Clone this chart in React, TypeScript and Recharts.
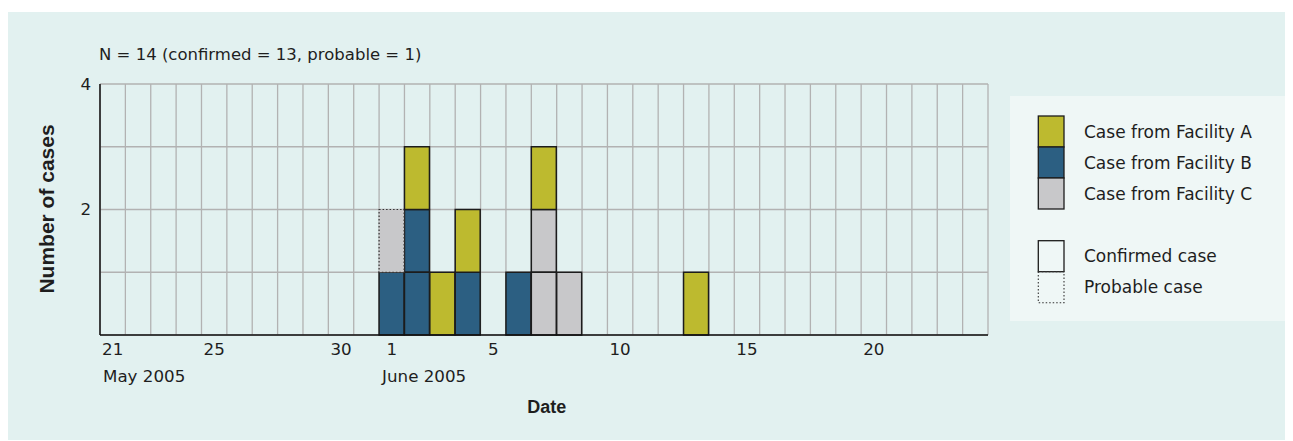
import React from 'react';
import { BarChart, Bar, XAxis, YAxis, CartesianGrid } from 'recharts';

// Days shown on the time axis
const mayDays = [21, 22, 23, 24, 25, 26, 27, 28, 29, 30, 31];
const juneDays = [1, 2, 3, 4, 5, 6, 7, 8, 9, 10, 11, 12, 13, 14, 15, 16, 17, 18, 19, 20, 21, 22, 23, 24];
const categories = [...mayDays.map((d) => `May ${d}`), ...juneDays.map((d) => `Jun ${d}`)];

// Cases per day (May 21 .. Jun 24)
const facilityB = [0, 0, 0, 0, 0, 0, 0, 0, 0, 0, 0, 1, 2, 0, 1, 0, 1, 0, 0, 0, 0, 0, 0, 0, 0, 0, 0, 0, 0, 0, 0, 0, 0, 0, 0];
const facilityCConfirmed = [0, 0, 0, 0, 0, 0, 0, 0, 0, 0, 0, 0, 0, 0, 0, 0, 0, 2, 1, 0, 0, 0, 0, 0, 0, 0, 0, 0, 0, 0, 0, 0, 0, 0, 0];
const facilityCProbable = [0, 0, 0, 0, 0, 0, 0, 0, 0, 0, 0, 1, 0, 0, 0, 0, 0, 0, 0, 0, 0, 0, 0, 0, 0, 0, 0, 0, 0, 0, 0, 0, 0, 0, 0];
const facilityA = [0, 0, 0, 0, 0, 0, 0, 0, 0, 0, 0, 0, 1, 1, 1, 0, 0, 1, 0, 0, 0, 0, 0, 1, 0, 0, 0, 0, 0, 0, 0, 0, 0, 0, 0];

// Tick labels
const tickDates = ['May 21', 'May 25', 'May 30', 'Jun 1', 'Jun 5', 'Jun 10', 'Jun 15', 'Jun 20'];
const monthStarts = ['May 21', 'Jun 1'];
const monthLabels = ['May 2005', 'June 2005'];
const yTicks = [0, 1, 2, 3, 4];
const yLabelled = [2, 4];

const titleText = 'N = 14 (confirmed = 13, probable = 1)';
const yTitle = 'Number of cases';
const xTitle = 'Date';

const COLOR_A = '#bdba2f';
const COLOR_B = '#2c5f82';
const COLOR_C = '#c8c8ca';
const EDGE = '#1c1c1c';
const FONT = "'DejaVu Sans', sans-serif";
const BOLD_FONT = "'Liberation Sans', Arial, sans-serif";
const TEXT = '#1e1e1e';

const facilityLegend = [
  { label: 'Case from Facility A', color: COLOR_A },
  { label: 'Case from Facility B', color: COLOR_B },
  { label: 'Case from Facility C', color: COLOR_C },
];
const statusLegend = [
  { label: 'Confirmed case', dashed: false },
  { label: 'Probable case', dashed: true },
];

const data = categories.map((c, i) => ({
  date: c,
  b: facilityB[i],
  cConf: facilityCConfirmed[i],
  cProb: facilityCProbable[i],
  a: facilityA[i],
}));

const unitShape = (key: string, probable: boolean) => (props: any) => {
  const { x, y, width, height, payload, fill } = props;
  const n = payload ? payload[key] : 0;
  if (!n || !height || height <= 0) return <g />;
  const h = height / n;
  return (
    <g>
      {Array.from({ length: n }, (_, k) => (
        <rect
          key={k}
          x={x}
          y={y + k * h}
          width={width}
          height={h}
          fill={fill}
          stroke={probable ? '#333' : EDGE}
          strokeWidth={probable ? 1.2 : 1.5}
          strokeDasharray={probable ? '1.5 2' : undefined}
        />
      ))}
    </g>
  );
};

const DateTick = (props: any) => {
  const { x, y, payload, width } = props;
  const value: string = payload.value;
  const day = value.split(' ')[1];
  const half = payload.offset ?? width / categories.length / 2;
  const mi = monthStarts.indexOf(value);
  return (
    <g>
      <text x={x} y={y} dy="0.71em" textAnchor="middle" fontFamily={FONT} fontSize={16.7} fill={TEXT}>
        {day}
      </text>
      {mi >= 0 && (
        <text x={x - half + 3} y={y} dy={38.5} textAnchor="start" fontFamily={FONT} fontSize={16.7} fill={TEXT}>
          {monthLabels[mi]}
        </text>
      )}
    </g>
  );
};

const gridVerticals = ({ offset }: any) =>
  Array.from({ length: categories.length + 1 }, (_, i) => offset.left + (i * offset.width) / categories.length);

const LegendBlock = () => {
  const bx = 1002;
  const by = 84;
  const sx = 1030.3;
  const sw = 25.7;
  const rh = 31;
  const top1 = 104;
  const top2 = 228.7;
  const tx = 1076;
  return (
    <g>
      <rect x={bx} y={by} width={283} height={225} fill="#eff7f6" />
      {facilityLegend.map((it, i) => (
        <g key={it.label}>
          <rect x={sx} y={top1 + i * rh} width={sw} height={rh} fill={it.color} stroke={EDGE} strokeWidth={1.3} />
          <text x={tx} y={top1 + i * rh + rh / 2 + 6.2} fontFamily={FONT} fontSize={17} fill={TEXT}>
            {it.label}
          </text>
        </g>
      ))}
      {statusLegend.map((it, i) => (
        <g key={it.label}>
          <rect
            x={sx}
            y={top2 + i * rh}
            width={sw}
            height={rh}
            fill="none"
            stroke={it.dashed ? '#333' : EDGE}
            strokeWidth={it.dashed ? 1.1 : 1.3}
            strokeDasharray={it.dashed ? '1.5 2' : undefined}
          />
          <text x={tx} y={top2 + i * rh + rh / 2 + 6.2} fontFamily={FONT} fontSize={17} fill={TEXT}>
            {it.label}
          </text>
        </g>
      ))}
    </g>
  );
};

export default function App() {
  return (
    <div style={{ position: 'relative', width: 1285, height: 433 }}>
      <div style={{ position: 'absolute', left: 0, top: 4, width: 1285, height: 428, background: '#e2f1f0' }} />
      <div style={{ position: 'absolute', left: 0, top: 4, width: 1285, height: 428 }}>
        <BarChart
          width={1285}
          height={428}
          data={data}
          margin={{ top: 72, right: 305, bottom: 75, left: 32 }}
          barCategoryGap={0}
          barGap={0}
        >
          <CartesianGrid
            stroke="#b2b2b2"
            strokeWidth={1.3}
            verticalCoordinatesGenerator={gridVerticals}
          />
          <XAxis
            dataKey="date"
            type="category"
            ticks={tickDates}
            interval={0}
            tick={<DateTick />}
            tickLine={false}
            axisLine={{ stroke: '#111', strokeWidth: 1.5 }}
            height={30}
          />
          <YAxis
            type="number"
            domain={[0, 4]}
            ticks={yTicks}
            interval={0}
            width={60}
            tickLine={false}
            tickMargin={3}
            axisLine={{ stroke: '#111', strokeWidth: 1.5 }}
            tick={{ fontFamily: FONT, fontSize: 16.7, fill: TEXT }}
            tickFormatter={(v: number) => (yLabelled.includes(v) ? String(v) : '')}
          />
          <Bar dataKey="b" stackId="s" fill={COLOR_B} isAnimationActive={false} shape={unitShape('b', false)} />
          <Bar dataKey="cConf" stackId="s" fill={COLOR_C} isAnimationActive={false} shape={unitShape('cConf', false)} />
          <Bar dataKey="cProb" stackId="s" fill={COLOR_C} isAnimationActive={false} shape={unitShape('cProb', true)} />
          <Bar dataKey="a" stackId="s" fill={COLOR_A} isAnimationActive={false} shape={unitShape('a', false)} />
          <text x={91} y={47.5} fontFamily={FONT} fontSize={16.5} fill={TEXT}>
            {titleText}
          </text>
          <text
            x={46}
            y={197}
            transform="rotate(-90 46 197)"
            textAnchor="middle"
            fontFamily={BOLD_FONT}
            fontWeight="bold"
            fontSize={21}
            fill={TEXT}
          >
            {yTitle}
          </text>
          <text x={538.7} y={401.3} textAnchor="middle" fontFamily={BOLD_FONT} fontWeight="bold" fontSize={18} fill={TEXT}>
            {xTitle}
          </text>
          <LegendBlock />
        </BarChart>
      </div>
    </div>
  );
}
